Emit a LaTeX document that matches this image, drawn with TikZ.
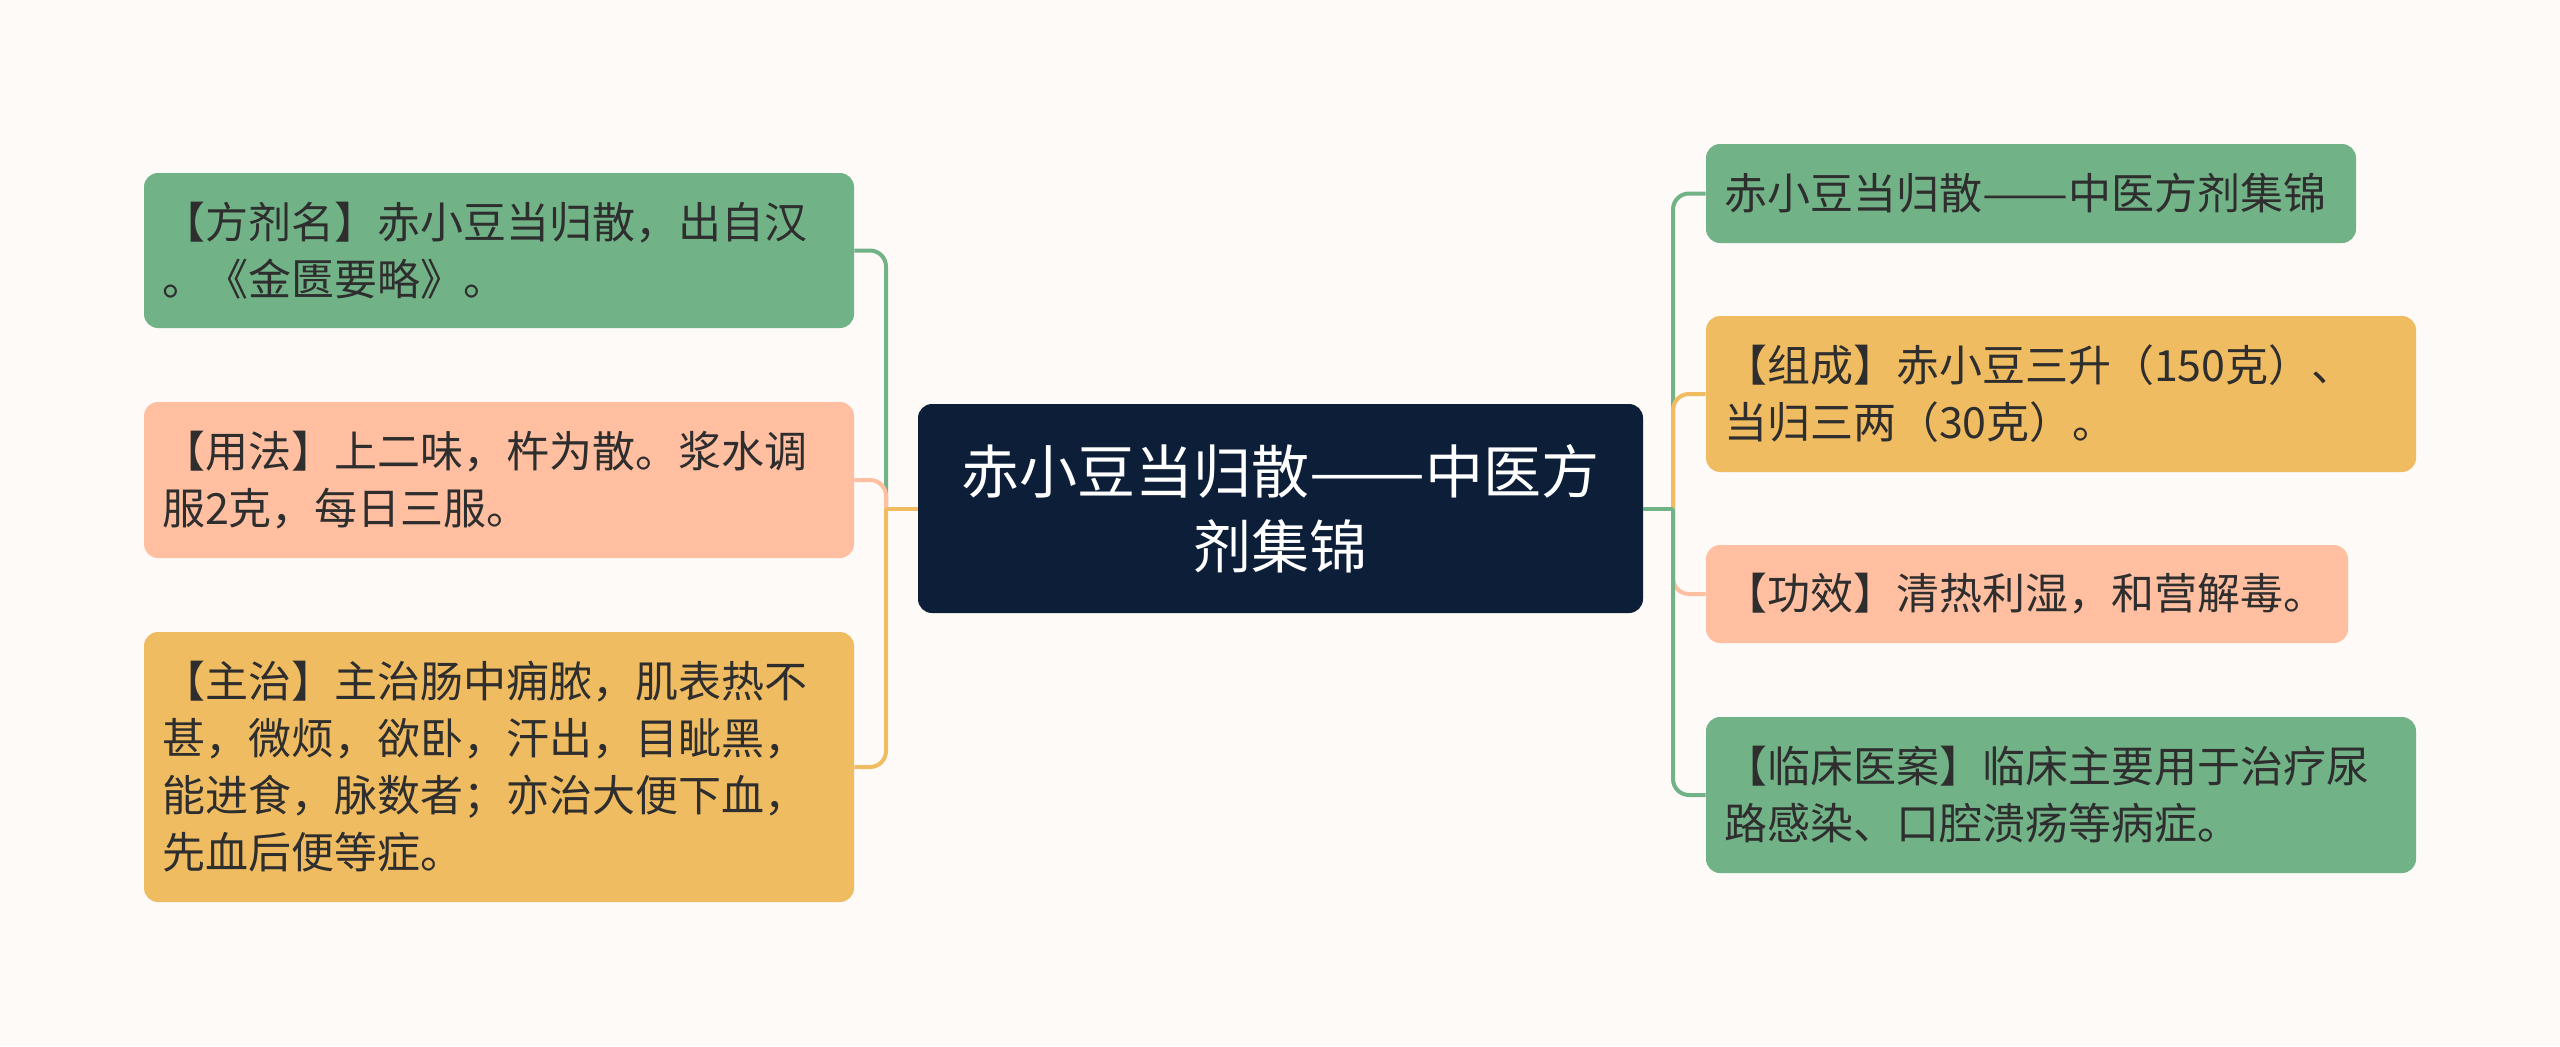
\documentclass[tikz,border=0pt]{standalone}
\usepackage{fontspec}
\usepackage{graphicx}
\setmainfont{Noto Sans CJK SC}
\usetikzlibrary{positioning}
\definecolor{bgpaper}{HTML}{FDFAF8}
\definecolor{leafgreen}{HTML}{72B287}
\definecolor{leafsalmon}{HTML}{FFBFA0}
\definecolor{leafgold}{HTML}{F0BC62}
\definecolor{topicnavy}{HTML}{0C1E38}
\definecolor{inkgray}{HTML}{2E2E2E}
\newcommand{\longdash}{\resizebox{2em}{\height}{——}}
\tikzset{
    topic/.style = {rectangle, rounded corners=7pt, fill=topicnavy, text=white,
                        minimum width=362.5pt, minimum height=104.5pt, inner sep=0pt,
                        text width=340pt, align=center, font=\fontsize{29}{37.5}\selectfont},
    detail/.style = {rectangle, rounded corners=7pt, text=inkgray, inner xsep=9pt,
                        inner ysep=0pt, align=left, font=\fontsize{21.5}{28.5}\selectfont},
    link/.style = {line width=2pt, rounded corners=8pt}
}

\begin{document}
\begin{tikzpicture}[x=0.5pt,y=-0.5pt]
			\fill [bgpaper] (0,0) rectangle (2560,1046);
			\useasboundingbox (0,0) rectangle (2560,1046);
			\node (title) [topic] at (1280.5,508.5) {赤小豆当归散\longdash 中医方\\剂集锦};
			% left side
			\node (name) [detail, fill=leafgreen, text width=337pt, minimum height=77.5pt] at (499,250.5)
				{【方剂名】赤小豆当归散，出自汉\\。《金匮要略》。};
			\node (usage) [detail, fill=leafsalmon, text width=337pt, minimum height=78pt] at (499,480)
				{【用法】上二味，杵为散。浆水调\\服2克，每日三服。};
			\node (cure) [detail, fill=leafgold, text width=337pt, minimum height=135pt] at (499,767)
				{【主治】主治肠中痈脓，肌表热不\\甚，微烦，欲卧，汗出，目眦黑，\\能进食，脉数者；亦治大便下血，\\先血后便等症。};
			% right side
			\node (book) [detail, fill=leafgreen, text width=307pt, minimum height=49.5pt] at (2031,193.5)
				{赤小豆当归散\longdash 中医方剂集锦};
			\node (parts) [detail, fill=leafgold, text width=337pt, minimum height=78pt] at (2061,394)
				{【组成】赤小豆三升（150克）、\\当归三两（30克）。};
			\node (effect) [detail, fill=leafsalmon, text width=303pt, minimum height=49pt] at (2027,594)
				{【功效】清热利湿，和营解毒。};
			\node (clinic) [detail, fill=leafgreen, text width=337pt, minimum height=78pt] at (2061,795)
				{【临床医案】临床主要用于治疗尿\\路感染、口腔溃疡等病症。};
			\coordinate (lj) at (886,508.5);
			\coordinate (rj) at (1673,508.5);
			\draw [link, leafgreen] (lj) |- (name.east);
			\draw [link, leafsalmon] (lj) |- (usage.east);
			\draw [link, leafgold] (lj) |- (cure.east);
			\draw [link, leafgold] (title.west) -- (lj);
			\draw [link, leafgreen] (rj) |- (book.west);
			\draw [link, leafgold] (rj) |- (parts.west);
			\draw [link, leafsalmon] (rj) |- (effect.west);
			\draw [link, leafgreen] (rj) |- (clinic.west);
			\draw [link, leafgreen] (title.east) -- (rj);
		\end{tikzpicture}
\end{document}
